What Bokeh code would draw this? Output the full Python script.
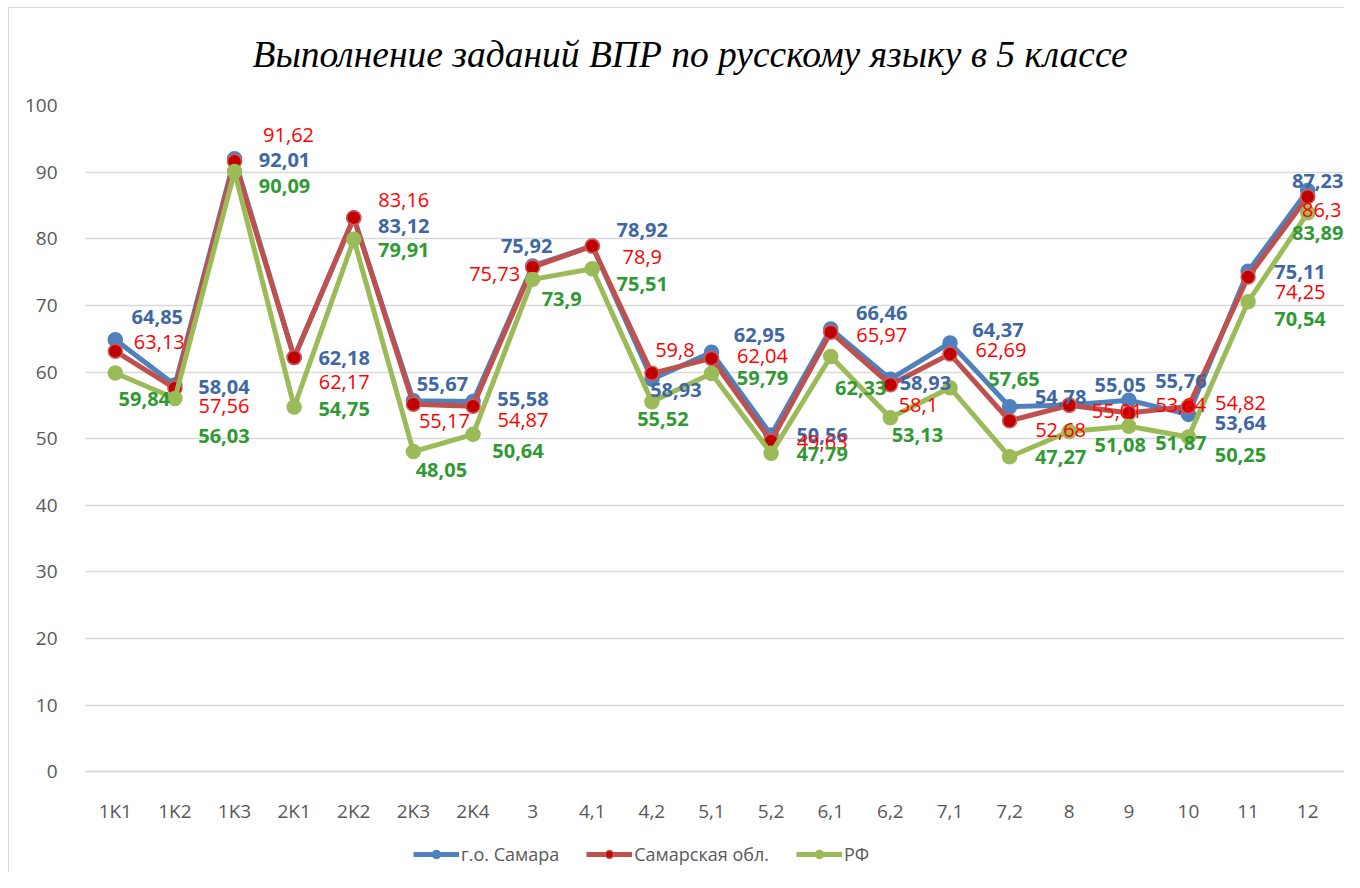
from bokeh.plotting import figure
from bokeh.models import (ColumnDataSource, LabelSet, Range1d, FixedTicker, Legend, LegendItem, Title)
from bokeh.core.properties import value
from bokeh.embed import file_html
from bokeh.resources import INLINE

categories = ["1K1", "1K2", "1K3", "2K1", "2K2", "2K3", "2K4", "3", "4,1", "4,2", "5,1",
              "5,2", "6,1", "6,2", "7,1", "7,2", "8", "9", "10", "11", "12"]
samara_city = [64.85, 58.04, 92.01, 62.18, 83.12, 55.67, 55.58, 75.92, 78.92, 58.93, 62.95,
               50.56, 66.46, 58.93, 64.37, 54.78, 55.05, 55.76, 53.64, 75.11, 87.23]
samara_obl = [63.13, 57.56, 91.62, 62.17, 83.16, 55.17, 54.87, 75.73, 78.9, 59.8, 62.04,
              49.63, 65.97, 58.1, 62.69, 52.68, 55.01, 53.84, 54.82, 74.25, 86.3]
rf = [59.84, 56.03, 90.09, 54.75, 79.91, 48.05, 50.64, 73.9, 75.51, 55.52, 59.79,
      47.79, 62.33, 53.13, 57.65, 47.27, 51.08, 51.87, 50.25, 70.54, 83.89]
series_names = ["г.о. Самара", "Самарская обл.", "РФ"]
y_ticks = list(range(0, 101, 10))

# label placement (screen pixel offsets from each point; layout only)
blue_dx = [42, 49, 50, 50, 50, 29, 50, -6, 50, 24, 48, 51, 51, 35, 48, 51, 51, 52, 52, 52, 10]
blue_dy = [-23, 2, 1, 1, 8, -17, -2, -20, -16, 11, -17, 0, -16, 4, -13, -10, -20, -19, 9, 1, -10]
red_dx = [44, 49, 54, 50, 50, 31, 50, -38, 50, 23, 51, 51, 51, 28, 51, 51, 48, 52, 52, 52, 14]
red_dy = [-9, 18, -26, 24, -18, 17, 14, 7, 11, -23, -2, 1, 3, 20, -4, 9, 6, -8, -4, 15, 13]
green_dx = [29, 49, 50, 50, 50, 28, 45, 29, 50, 11, 51, 51, 30, 27, 64, 51, 51, 52, 52, 52, 10]
green_dy = [26, 38, 14, 2, 11, 18, 17, 20, 15, 17, 5, 1, 32, 17, -9, 0, 14, 17, 18, 17, 20]

FONT = "Open Sans"
GREY = "#595959"
BORDER = "#d9d9d9"

xs = list(range(len(categories)))
# frame spans to the canvas bottom so the legend (drawn inside the frame) is not clipped;
# the value axis 0..100 occupies the upper 668 px, the x axis sits at y = 0
p = figure(width=1344, height=872, x_range=Range1d(-0.5, len(categories) - 0.383),
           y_range=Range1d(-101 / 6.68, 100), output_backend="svg", toolbar_location=None,
           min_border_left=85, min_border_right=0, min_border_top=103, min_border_bottom=0)
p.outline_line_color = None
p.background_fill_color = "white"
p.border_fill_color = None
p.styles = {
    "background": "linear-gradient(#d9d9d9, #d9d9d9) 8px 7px / 1px 100% no-repeat, "
                  "linear-gradient(#d9d9d9, #d9d9d9) 8px 7px / 100% 1px no-repeat, white"
}

p.title = Title(text="Выполнение заданий ВПР по русскому языку в 5 классе", align="left",
                text_font="Liberation Serif", text_font_style="italic", text_font_size="37.5px",
                text_color="black", standoff=62, offset=167)

p.xgrid.grid_line_color = None
p.ygrid.grid_line_color = BORDER
p.ygrid.grid_line_width = 1.5
p.yaxis.ticker = FixedTicker(ticks=y_ticks)
p.xaxis.ticker = FixedTicker(ticks=xs)
p.xaxis.major_label_overrides = {i: c for i, c in zip(xs, categories)}
p.xaxis.fixed_location = 0
for ax in (p.xaxis[0], p.yaxis[0]):
    ax.major_tick_line_color = None
    ax.minor_tick_line_color = None
    ax.major_label_text_font = FONT
    ax.major_label_text_font_size = "19px"
    ax.major_label_text_color = GREY
p.yaxis.axis_line_color = None
p.yaxis.major_label_standoff = 22
p.xaxis.axis_line_color = BORDER
p.xaxis.axis_line_width = 1.5
p.xaxis.major_label_standoff = 20

configs = [
    (samara_city, "#4f81bd", "#4f81bd", "#4f81bd", "#3f67a1", "bold", blue_dx, blue_dy),
    (samara_obl, "#c0504d", "#c00000", "#d05a57", "#ff0000", "normal", red_dx, red_dy),
    (rf, "#9bbb59", "#9bbb59", "#9bbb59", "#2f9a33", "bold", green_dx, green_dy),
]
items = []
sources = []
for (vals, lc, mf, ml, tc, fs, dx, dy), name in zip(configs, series_names):
    src = ColumnDataSource(dict(x=xs, y=vals,
                                txt=[str(v).replace(".", ",") for v in vals],
                                dx=dx, ndy=[-d for d in dy]))
    sources.append(src)
    r1 = p.line("x", "y", source=src, line_color=lc, line_width=5)
    r2 = p.scatter("x", "y", source=src, size=14, fill_color=mf, line_color=ml, line_width=1.5)
    items.append(LegendItem(label=name, renderers=[r1, r2]))
for (vals, lc, mf, ml, tc, fs, dx, dy), src in zip(configs, sources):
    ls = LabelSet(x="x", y="y", text="txt", source=src, x_offset="dx", y_offset="ndy",
                  text_align="center", text_baseline="middle", text_font=value(FONT),
                  text_font_size="20px", text_font_style=fs, text_color=tc)
    p.add_layout(ls)

legend = Legend(items=items, orientation="horizontal", location=(328, 6),
                label_text_font=FONT, label_text_font_size="18px", label_text_color=GREY,
                glyph_width=46, glyph_height=20, label_height=20, label_standoff=2, spacing=27,
                border_line_color=None, background_fill_alpha=0, margin=0, padding=0)
p.add_layout(legend, "center")

open("out.html", "w").write(file_html(p, INLINE))
